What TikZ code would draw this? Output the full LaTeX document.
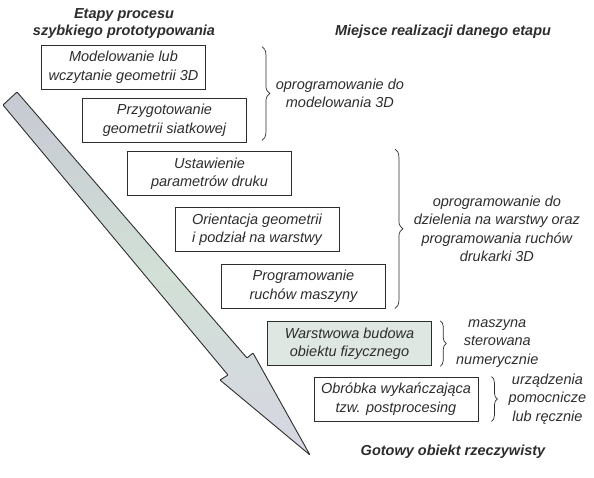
\documentclass[tikz,border=0pt]{standalone}
\usepackage{fontspec}
\setmainfont{Liberation Sans}
\usepackage{tikz}
\usetikzlibrary{calc,decorations.pathreplacing}

\definecolor{inkgray}{RGB}{45,45,45}
\definecolor{arrowtop}{RGB}{198,201,211}
\definecolor{arrowmid}{RGB}{210,224,214}
\definecolor{arrowbot}{RGB}{214,214,226}
\definecolor{buildfill}{RGB}{222,231,226}

\begin{document}
\begin{tikzpicture}[x=1pt,y=-1pt,
    every node/.style={font=\fontsize{14.5}{18.5}\selectfont, text=inkgray},
    stage/.style={draw=inkgray, line width=0.8pt, fill=white, minimum width=164pt, minimum height=44pt, inner sep=1pt, align=center, font=\fontsize{14.5}{18.5}\selectfont\itshape},
    place/.style={align=center, inner sep=0pt, font=\fontsize{14.5}{18.5}\selectfont\itshape},
    headline/.style={align=center, inner sep=0pt, font=\fontsize{14.5}{17}\selectfont\bfseries\itshape},
    brace/.style={decorate, decoration={brace, amplitude=8pt}, draw=inkgray, line width=0.7pt}]
          \useasboundingbox (0,0) rectangle (594,477);

          % big arrow
          \draw[draw=inkgray, line width=0.9pt, rounded corners=0.8pt, top color=arrowtop, bottom color=arrowbot, middle color=arrowmid]
            (3,105) -- (17,92) -- (247,358) -- (253,353) -- (310,455) -- (220,380) -- (228,375) -- cycle;

          % headers
          \node[headline] (stagesHead) at (124,24) {Etapy procesu\\szybkiego prototypowania};
          \node[headline] (placeHead) at (443,32) {Miejsce realizacji danego etapu};
          \node[headline] (result) at (453,452) {Gotowy obiekt rzeczywisty};

          % stages
          \node[stage] (model) at (123.5,67) {Modelowanie lub\\wczytanie geometrii 3D};
          \node[stage] (mesh) at (164.5,120) {Przygotowanie\\geometrii siatkowej};
          \node[stage] (params) at (209.5,173.5) {Ustawienie\\parametrów druku};
          \node[stage] (slicing) at (257,229.5) {Orientacja geometrii\\i podział na warstwy};
          \node[stage] (moves) at (303.5,286) {Programowanie\\ruchów maszyny};
          \node[stage, fill=buildfill, line width=1.5pt] (build) at (349.5,343.5) {Warstwowa budowa\\obiektu fizycznego};
          \node[stage] (post) at (396,399) {Obróbka wykańczająca\\tzw. postprocesing};

          % braces
          \draw[brace] ($(mesh.east |- model.north)+(15,2)$) -- ($(mesh.south east)+(15,-2)$)
            node[midway, xshift=78pt, place] (cadSoft) {oprogramowanie do\\modelowania 3D};
          \draw[brace] ($(moves.east |- params.north)+(9,-2)$) -- ($(moves.south east)+(9,0)$)
            node[midway, xshift=102pt, place] (slicerSoft) {oprogramowanie do\\dzielenia na warstwy oraz\\programowania ruchów\\drukarki 3D};
          \draw[brace, decoration={amplitude=6pt}] ($(build.north east)+(8,0)$) -- ($(build.south east)+(8,0)$)
            node[midway, xshift=57pt, place] (cnc) {maszyna\\sterowana\\numerycznie};
          \draw[brace, decoration={amplitude=6pt}] ($(post.north east)+(13,0)$) -- ($(post.south east)+(13,0)$)
            node[midway, xshift=56pt, place] (tools) {urządzenia\\pomocnicze\\lub ręcznie};
        \end{tikzpicture}
\end{document}
